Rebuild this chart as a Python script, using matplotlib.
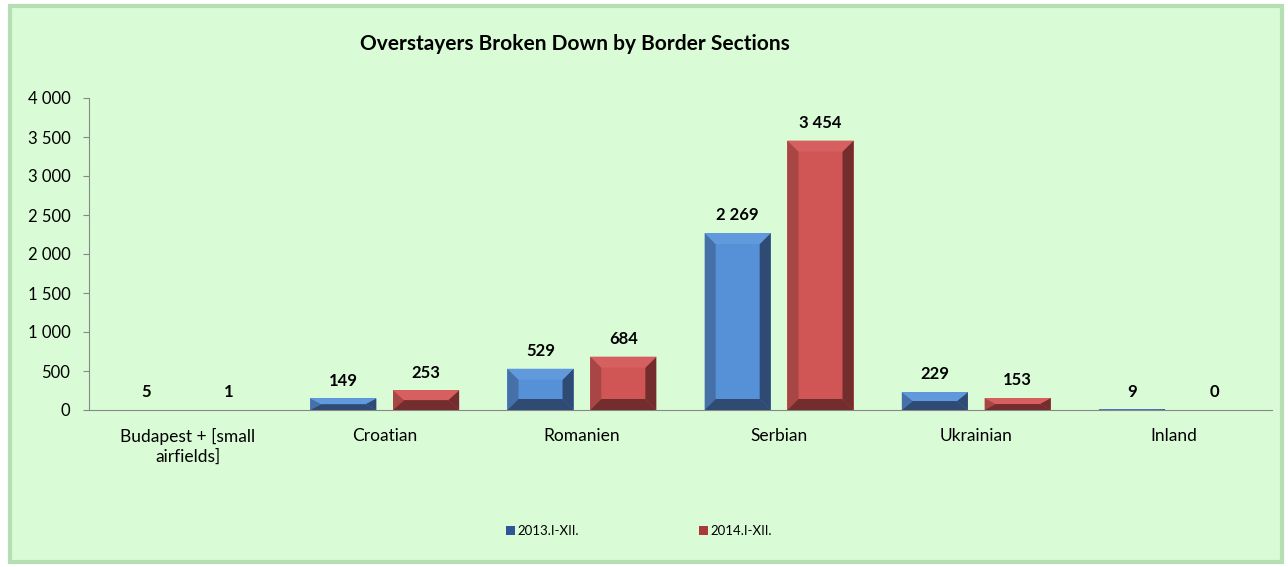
import matplotlib
matplotlib.use("Agg")
import matplotlib.pyplot as plt
from matplotlib.patches import Polygon, Rectangle
from matplotlib.transforms import IdentityTransform
import numpy as np

categories = ["Budapest + [small\nairfields]", "Croatian", "Romanien", "Serbian", "Ukrainian", "Inland"]
series_names = ["2013.I-XII.", "2014.I-XII."]
values_2013 = [5, 149, 529, 2269, 229, 9]
values_2014 = [1, 253, 684, 3454, 153, 0]
yticks = [0, 500, 1000, 1500, 2000, 2500, 3000, 3500, 4000]

plt.rcParams['font.family'] = ['Lato', 'DejaVu Sans']

W, H = 1288, 567
fig = plt.figure(figsize=(W / 100, H / 100), dpi=100)
fig.patch.set_facecolor("white")
bg = "#d9fcd6"
fig.patches.append(Rectangle((10 / W, 5 / H), 1272 / W, 556 / H, transform=fig.transFigure,
                             facecolor=bg, edgecolor="#b5dfb3", linewidth=3, zorder=-5))

ax = fig.add_axes([89 / W, 1 - 410 / H, (1272 - 89) / W, (410 - 98) / H])
ax.set_zorder(2)
ax.set_facecolor("none")
ax.set_ylim(0, 4000)
ax.set_xlim(-0.5, len(categories) - 0.5)
ax.set_yticks(yticks)
ax.set_yticklabels([f"{v:,}".replace(",", " ") for v in yticks], fontsize=12)
ax.set_xticks(range(len(categories)))
ax.set_xticklabels(categories, fontsize=12.5, linespacing=1.25)
ax.tick_params(axis="x", length=0, pad=13)
ax.tick_params(axis="y", length=4, color="#888888", pad=9.5)
for s in ["top", "right"]:
    ax.spines[s].set_visible(False)
for s in ["left", "bottom"]:
    ax.spines[s].set_color("#888888")

x = np.arange(len(categories))
bw = 0.335
off = 0.21
colors = [
    dict(face="#5690d6", left="#4570a8", top="#6099dc", right="#2f4b74", bottom="#2f4b74", label="#2f5597"),
    dict(face="#d05555", left="#a84545", top="#d65f5f", right="#742d2d", bottom="#742d2d", label="#a83a3a"),
]

fig.canvas.draw()
ident = IdentityTransform()
for i, (vals, c) in enumerate(zip([values_2013, values_2014], colors)):
    bars = ax.bar(x + (-off if i == 0 else off), vals, width=bw, color=c["face"], label=series_names[i], zorder=2)
    for b, v in zip(bars, vals):
        (x0, y0), (x1, y1) = ax.transData.transform([(b.get_x(), 0), (b.get_x() + b.get_width(), b.get_height())])
        h = y1 - y0
        d = min(11, h / 2)
        dx = 11
        if h > 0.5:
            polys = [
                ([(x0, y0), (x0 + dx, y0 + d), (x0 + dx, y1 - d), (x0, y1)], c["left"]),
                ([(x1, y0), (x1 - dx, y0 + d), (x1 - dx, y1 - d), (x1, y1)], c["right"]),
                ([(x0, y1), (x0 + dx, y1 - d), (x1 - dx, y1 - d), (x1, y1)], c["top"]),
                ([(x0, y0), (x0 + dx, y0 + d), (x1 - dx, y0 + d), (x1, y0)], c["bottom"]),
            ]
            for pts, col in polys:
                ax.add_patch(Polygon(pts, closed=True, transform=ident, facecolor=col, edgecolor="none", zorder=3))
        ax.annotate(f"{v:,}".replace(",", " "), (b.get_x() + b.get_width() / 2, b.get_height()),
                    xytext=(0, 7), textcoords="offset points", ha="center", va="bottom",
                    fontsize=12, fontweight="bold", color="black", zorder=4)

fig.text(575 / W, 1 - 44 / H, "Overstayers Broken Down by Border Sections", ha="center", va="center",
         fontsize=15, fontweight="bold")

handles = [Rectangle((0, 0), 1, 1, facecolor=c["label"], edgecolor="none") for c in colors]
fig.legend(handles, series_names, loc="center", bbox_to_anchor=(639 / W, 1 - 531 / H), ncol=2, frameon=False,
           fontsize=9.5, handlelength=0.7, handleheight=0.7, handletextpad=0.2, columnspacing=9.05)

fig.savefig("out.png", dpi=100, facecolor=fig.get_facecolor())
